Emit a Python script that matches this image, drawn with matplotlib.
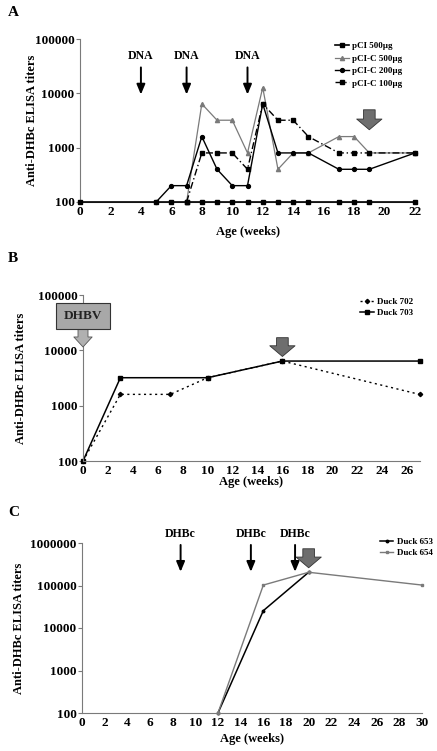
import matplotlib
matplotlib.use('Agg')
import matplotlib.pyplot as plt
from matplotlib.ticker import FixedLocator, NullLocator

plt.rcParams['font.family'] = ['Liberation Serif', 'DejaVu Serif']
plt.rcParams['font.weight'] = 'bold'

GRAY = '#7a7a7a'

# Panel A data
weeks_a = [0, 5, 6, 7, 8, 9, 10, 11, 12, 13, 14, 15, 17, 18, 19, 22]
pci_500 = [100] * 16
weeks_a_c500 = [7, 8, 9, 10, 11, 12, 13, 14, 15, 17, 18, 19, 22]
pcic_500 = [100, 6400, 3200, 3200, 800, 12800, 400, 800, 800, 1600, 1600, 800, 800]
weeks_a_c200 = [5, 6, 7, 8, 9, 10, 11, 12, 13, 14, 15, 17, 18, 19, 22]
pcic_200 = [100, 200, 200, 1600, 400, 200, 200, 6400, 800, 800, 800, 400, 400, 400, 800]
weeks_a_c100 = [7, 8, 9, 10, 11, 12, 13, 14, 15, 17, 18, 19, 22]
pcic_100 = [100, 800, 800, 800, 400, 6400, 3200, 3200, 1600, 800, 800, 800, 800]
dna_weeks = [4, 7, 11]

# Panel B data
weeks_702 = [0, 3, 7, 10, 16, 27]
duck_702 = [100, 1600, 1600, 3200, 6400, 1600]
weeks_703 = [0, 3, 10, 16, 27]
duck_703 = [100, 3200, 3200, 6400, 6400]

# Panel C data
weeks_653 = [12, 16, 20]
duck_653 = [100, 25600, 204800]
weeks_654 = [12, 16, 20, 30]
duck_654 = [100, 102400, 204800, 102400]
dhbc_weeks = [8.7, 14.9, 18.8]

fig = plt.figure(figsize=(4.37, 7.51), dpi=100)
W, H = 437, 751


def make_axes(left, right, top, bottom):
    return fig.add_axes([left / W, 1 - bottom / H, (right - left) / W, (bottom - top) / H])


def style(ax, xmax, xticks, yticks, ylab_x, xlab_y):
    ax.set_yscale('log')
    ax.set_xlim(0, xmax)
    ax.set_ylim(yticks[0], yticks[-1])
    ax.xaxis.set_major_locator(FixedLocator(xticks))
    ax.yaxis.set_major_locator(FixedLocator(yticks))
    ax.yaxis.set_minor_locator(NullLocator())
    ax.set_yticklabels([str(v) for v in yticks])
    ax.set_xticklabels([str(v) for v in xticks])
    ax.spines['top'].set_visible(False)
    ax.spines['right'].set_visible(False)
    ax.spines['left'].set_color(GRAY)
    ax.spines['bottom'].set_color(GRAY)
    ax.tick_params(axis='y', length=3, width=0.8, color=GRAY, labelsize=9.5, pad=1)
    ax.tick_params(axis='x', length=0, labelsize=9.5, pad=3)
    for lab in ax.get_xticklabels() + ax.get_yticklabels():
        lab.set_fontweight('bold')
    ax.set_ylabel('Anti-DHBc ELISA titers', fontsize=9, fontweight='bold')
    ax.set_xlabel('Age (weeks)', fontsize=9, fontweight='bold')
    ax.yaxis.set_label_coords(ylab_x, 0.5)
    ax.xaxis.set_label_coords(0.5, xlab_y)


def block_arrow(ax, x, y_top, y_tip, fc):
    ax.annotate('', xy=(x, y_tip), xytext=(x, y_top),
                arrowprops=dict(arrowstyle='simple,head_length=0.55,head_width=1.3,tail_width=0.6',
                                fc=fc, ec='#333333', lw=0.6, mutation_scale=14),
                annotation_clip=False)


def thin_arrow(ax, x, y_text, y_top, y_tip, label):
    ax.annotate('', xy=(x, y_tip), xytext=(x, y_top),
                arrowprops=dict(arrowstyle='-|>,head_length=0.6,head_width=0.25',
                                color='black', lw=1.4, shrinkA=0, shrinkB=0))
    ax.text(x, y_text, label, ha='center', va='bottom', fontsize=8.5, fontweight='bold')


# ---- Panel A ----
axA = make_axes(80, 415, 39, 202)
axA.plot(weeks_a, pci_500, color='black', lw=1.2, marker='s', ms=3.5, label='pCI 500µg', clip_on=False, zorder=5)
axA.plot(weeks_a_c500, pcic_500, color=GRAY, lw=0.9, marker='^', ms=3, label='pCI-C 500µg', clip_on=False)
axA.plot(weeks_a_c200, pcic_200, color='black', lw=1.0, marker='o', ms=2.8, label='pCI-C 200µg', clip_on=False)
axA.plot(weeks_a_c100, pcic_100, color='black', lw=1.0, ls=(0, (5, 2, 1, 2)), marker='s', ms=3,
         label='pCI-C 100µg', clip_on=False)
style(axA, 22, list(range(0, 23, 2)), [100, 1000, 10000, 100000], -0.125, -0.145)
for w in dna_weeks:
    thin_arrow(axA, w, 38000, 30000, 9500, 'DNA')
block_arrow(axA, 19, 5600, 1900, '#6e6e6e')
legA = axA.legend(loc='upper right', bbox_to_anchor=(0.98, 1.02), frameon=False, fontsize=6.5,
                  handlelength=1.6, handletextpad=0.3, labelspacing=0.45, borderpad=0.2)
for t in legA.get_texts():
    t.set_fontweight('bold')
fig.text(8 / W, 1 - 12 / H, 'A', fontsize=11, fontweight='bold', va='center')

# ---- Panel B ----
axB = make_axes(83, 419.5, 295, 461)
axB.plot(weeks_702, duck_702, color='black', lw=1.0, ls=(0, (1.5, 2.5)), marker='D', ms=2.2,
         label='Duck 702', clip_on=False)
axB.plot(weeks_703, duck_703, color='black', lw=1.1, marker='s', ms=2.8, label='Duck 703', clip_on=False)
style(axB, 27, list(range(0, 27, 2)), [100, 1000, 10000, 100000], -0.165, -0.09)
block_arrow(axB, 16, 19000, 6900, '#6e6e6e')
axB.annotate('', xy=(0, 11500), xytext=(0, 30000),
             arrowprops=dict(arrowstyle='simple,head_length=0.6,head_width=1.1,tail_width=0.6',
                             fc='#b0b0b0', ec='#555555', lw=0.6, mutation_scale=12, shrinkA=0, shrinkB=0),
             annotation_clip=False, zorder=5)
axB.text(0, 42000, 'DHBV', ha='center', va='center', fontsize=9.5, fontweight='bold', color='#222222',
         bbox=dict(boxstyle='square,pad=0.55', fc='#a8a8a8', ec='#333333', lw=0.8), clip_on=False,
         zorder=6)
legB = axB.legend(loc='upper right', bbox_to_anchor=(1.0, 1.02), frameon=False, fontsize=6.5,
                  handlelength=1.6, handletextpad=0.3, labelspacing=0.3, borderpad=0.2)
for t in legB.get_texts():
    t.set_fontweight('bold')
fig.text(8 / W, 1 - 258 / H, 'B', fontsize=11, fontweight='bold', va='center')

# ---- Panel C ----
axC = make_axes(82, 422, 543, 713)
axC.plot(weeks_653, duck_653, color='black', lw=1.1, marker='o', ms=1.8, label='Duck 653', clip_on=False)
axC.plot(weeks_654, duck_654, color=GRAY, lw=1.0, marker='s', ms=1.8, label='Duck 654', clip_on=False)
style(axC, 30, list(range(0, 31, 2)), [100, 1000, 10000, 100000, 1000000], -0.168, -0.12)
for w in dhbc_weeks:
    thin_arrow(axC, w, 1150000, 900000, 210000, 'DHBc')
block_arrow(axC, 20, 850000, 225000, '#6e6e6e')
legC = axC.legend(loc='upper right', bbox_to_anchor=(1.05, 1.07), frameon=False, fontsize=6.5,
                  handlelength=1.4, handletextpad=0.4, labelspacing=0.3, borderpad=0.2)
for t in legC.get_texts():
    t.set_fontweight('bold')
fig.text(8 / W, 1 - 512 / H, 'C', fontsize=11, fontweight='bold', va='center')

fig.savefig('out.png', dpi=100)
